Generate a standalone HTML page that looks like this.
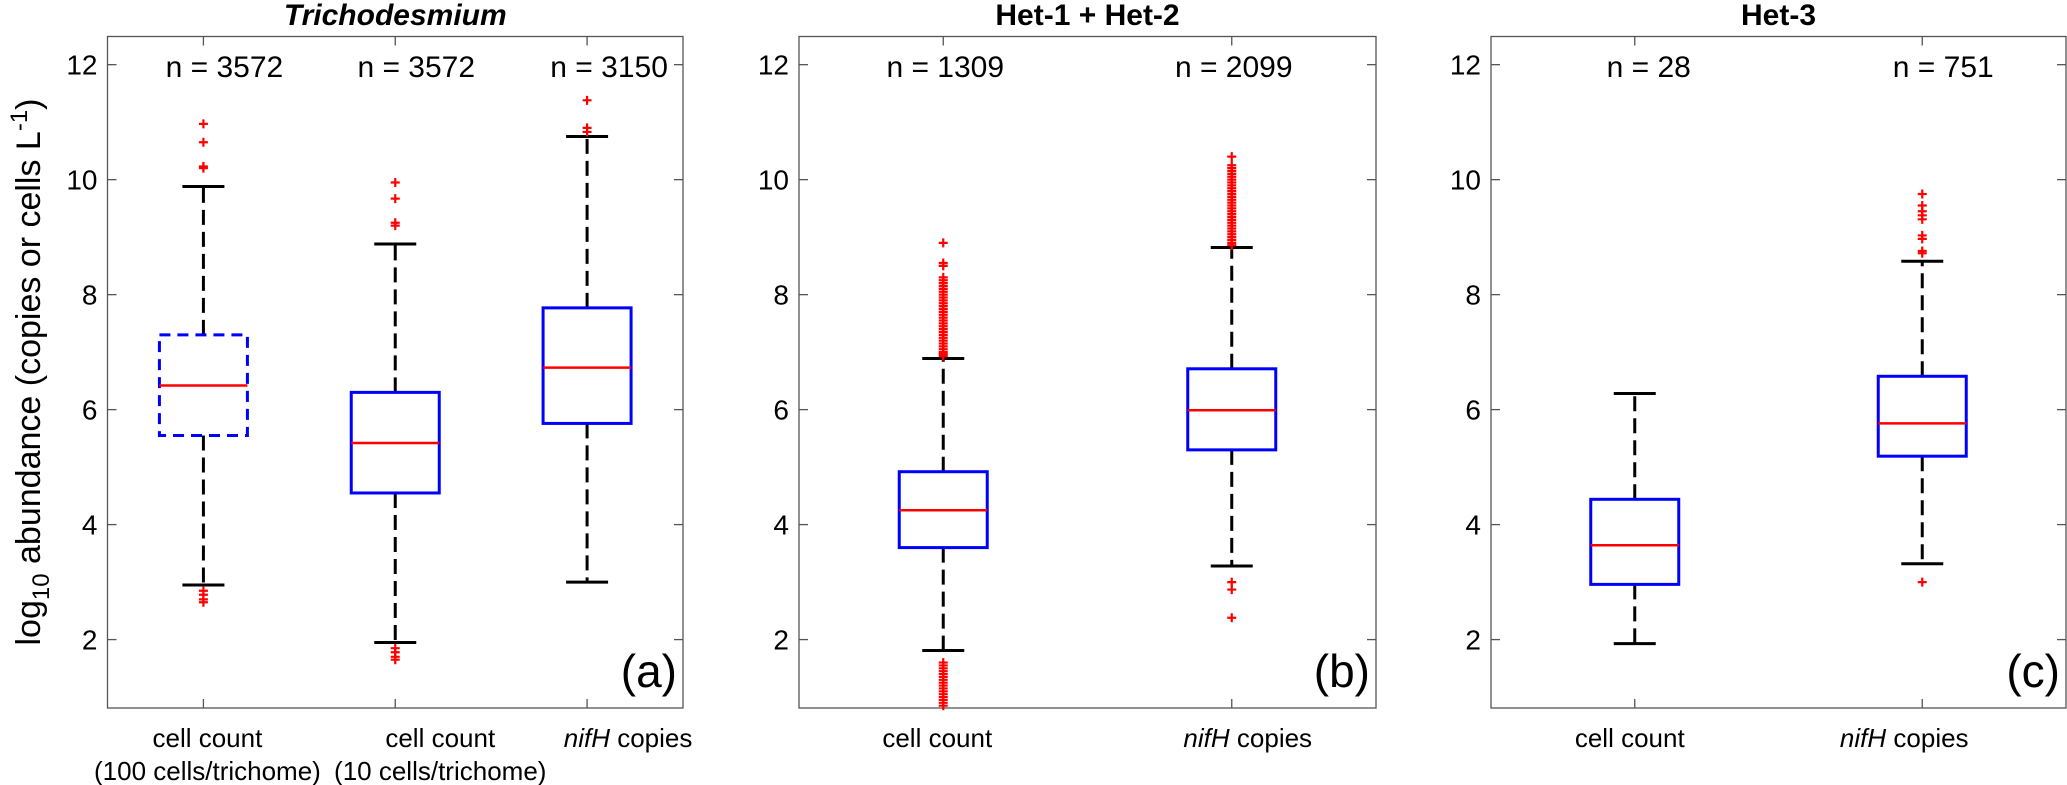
<!DOCTYPE html>
<html><head><meta charset="utf-8"><style>
html,body{margin:0;padding:0;background:#fff;}
svg{display:block;}
text{font-family:"Liberation Sans",Arial,sans-serif;fill:#000;}
</style></head><body>
<svg id="chart" width="2067" height="785" xmlns="http://www.w3.org/2000/svg"></svg>
<script>
// ---- data ----
const panelTitles = ["Trichodesmium", "Het-1 + Het-2", "Het-3"];
const panelTags = ["(a)", "(b)", "(c)"];
const yTicks = [2, 4, 6, 8, 10, 12];
const catsA = [["cell count", "(100 cells/trichome)"], ["cell count", "(10 cells/trichome)"], ["nifH copies"]];
const catsB = [["cell count"], ["nifH copies"]];
const catsC = [["cell count"], ["nifH copies"]];
const nA = ["n = 3572", "n = 3572", "n = 3150"];
const nB = ["n = 1309", "n = 2099"];
const nC = ["n = 28", "n = 751"];
// [whiskerLow, q1, median, q3, whiskerHigh]
const statsA = [[2.95, 5.55, 6.42, 7.3, 9.88], [1.95, 4.55, 5.42, 6.3, 8.88], [3.0, 5.76, 6.73, 7.77, 10.75]];
const statsB = [[1.81, 3.60, 4.25, 4.92, 6.89], [3.28, 5.30, 5.99, 6.71, 8.82]];
const statsC = [[1.93, 2.96, 3.64, 4.44, 6.28], [3.32, 5.19, 5.76, 6.58, 8.58]];
const outA = [[2.65, 2.7, 2.78, 2.85, 10.2, 10.23, 10.65, 10.97], [1.65, 1.7, 1.78, 1.85, 9.2, 9.25, 9.67, 9.95], [10.83, 10.9, 11.38]];
const outB = [[0.85, 0.9, 0.95, 1.0, 1.05, 1.1, 1.15, 1.2, 1.25, 1.3, 1.35, 1.4, 1.45, 1.5, 1.55, 1.6,
               6.93, 6.97, 7.0, 7.05, 7.1, 7.15, 7.2, 7.25, 7.3, 7.35, 7.4, 7.45, 7.5, 7.55, 7.6, 7.65, 7.7, 7.75, 7.8, 7.85, 7.9, 7.95, 8.0, 8.05, 8.1, 8.15, 8.2, 8.25, 8.3, 8.5, 8.55, 8.9],
              [2.38, 2.87, 3.0, 8.86, 8.9, 8.95, 9.0, 9.05, 9.1, 9.15, 9.2, 9.25, 9.3, 9.35, 9.4, 9.45, 9.5, 9.55, 9.6, 9.65, 9.7, 9.75, 9.8, 9.85, 9.9, 9.95, 10.0, 10.05, 10.1, 10.15, 10.2, 10.25, 10.4]];
const outC = [[], [3.0, 8.72, 8.76, 8.97, 9.03, 9.31, 9.38, 9.45, 9.55, 9.75]];

const svg = document.getElementById('chart');
const NS = 'http://www.w3.org/2000/svg';
function mk(tag, attrs, parent) {
  const e = document.createElementNS(NS, tag);
  for (const k in attrs) e.setAttribute(k, attrs[k]);
  (parent || svg).appendChild(e);
  return e;
}
const Y0 = 708, Y1 = 36.5, VMIN = 0.81, VMAX = 12.49;
function yS(v) { return Y0 - (v - VMIN) / (VMAX - VMIN) * (Y0 - Y1); }

const panels = [
  {L: 107.5, R: 683, cats: catsA, ns: nA, stats: statsA, outs: outA, dashedFirst: true, nOff: [21, 21, 22], lOff: [4, 45, 41]},
  {L: 799, R: 1376, cats: catsB, ns: nB, stats: statsB, outs: outB, dashedFirst: false, nOff: [2, 2], lOff: [-6, 16]},
  {L: 1491, R: 2066, cats: catsC, ns: nC, stats: statsC, outs: outC, dashedFirst: false, nOff: [14, 21], lOff: [-5, -18]}
];

panels.forEach((p, pi) => {
  const g = mk('g', {});
  
  
  const k = p.cats.length;
  const xS = i => p.L + (i + 0.5) / k * (p.R - p.L);
  const fr = mk('rect', {x: p.L, y: Y1, width: p.R - p.L, height: Y0 - Y1, fill: 'none', stroke: '#555', 'stroke-width': 1.3}, g);
  
  
  yTicks.forEach(t => {
    const y = yS(t);
    mk('line', {x1: p.L, x2: p.L + 9, y1: y, y2: y, stroke: '#555', 'stroke-width': 1.3}, g);
    mk('line', {x1: p.R, x2: p.R - 9, y1: y, y2: y, stroke: '#555', 'stroke-width': 1.3}, g);
    const tl = mk('text', {x: p.L - 10, y: y + 10, 'text-anchor': 'end', 'font-size': 28}, g);
    tl.textContent = t;
    
    
  });
  const tt = mk('text', {x: (p.L + p.R) / 2, y: 25, 'text-anchor': 'middle', 'font-size': 30, 'font-weight': 'bold', 'font-style': pi === 0 ? 'italic' : 'normal'}, g);
  tt.textContent = panelTitles[pi];
  
  
  const tg = mk('text', {x: p.R - 6, y: 687, 'text-anchor': 'end', 'font-size': 46}, g);
  tg.textContent = panelTags[pi];
  
  
  p.cats.forEach((c, i) => {
    const x = xS(i);
    const s = p.stats[i];
    mk('line', {x1: x, x2: x, y1: Y1, y2: Y1 + 9, stroke: '#555', 'stroke-width': 1.3}, g);
    mk('line', {x1: x, x2: x, y1: Y0, y2: Y0 - 9, stroke: '#555', 'stroke-width': 1.3}, g);
    const nl = mk('text', {x: x + p.nOff[i], y: 77, 'text-anchor': 'middle', 'font-size': 30}, g);
    nl.textContent = p.ns[i];
    
    
    c.forEach((line, li) => {
      const xl = mk('text', {x: x + p.lOff[i], y: 747 + li * 33, 'text-anchor': 'middle', 'font-size': 26}, g);
      
      
      if (line.startsWith('nifH')) {
        const t1 = mk('tspan', {'font-style': 'italic'}, xl); t1.textContent = 'nifH';
        const t2 = mk('tspan', {}, xl); t2.textContent = ' copies';
      } else xl.textContent = line;
    });
    const hw = 44, cw = 21;
    const w1 = mk('line', {x1: x, x2: x, y1: yS(s[3]), y2: yS(s[4]), stroke: '#000', 'stroke-width': 3, 'stroke-dasharray': '15,7'}, g);
    
    
    const w2 = mk('line', {x1: x, x2: x, y1: yS(s[1]), y2: yS(s[0]), stroke: '#000', 'stroke-width': 3, 'stroke-dasharray': '15,7'}, g);
    
    
    [s[0], s[4]].forEach(v => {
      const cap = mk('line', {x1: x - cw, x2: x + cw, y1: yS(v), y2: yS(v), stroke: '#000', 'stroke-width': 3}, g);
      
      
    });
    const bx = mk('rect', {x: x - hw, y: yS(s[3]), width: 2 * hw, height: yS(s[1]) - yS(s[3]), fill: '#fff', stroke: '#0000ff', 'stroke-width': 3}, g);
    if (p.dashedFirst && i === 0) bx.setAttribute('stroke-dasharray', '11,7');
    
    
    const md = mk('line', {x1: x - hw, x2: x + hw, y1: yS(s[2]), y2: yS(s[2]), stroke: '#ff0000', 'stroke-width': 2.5}, g);
    
    
    p.outs[i].forEach(v => {
      const y = yS(v);
      const o = mk('path', {d: `M${x - 4.5},${y}H${x + 4.5}M${x},${y - 4.5}V${y + 4.5}`, stroke: '#ff0000', 'stroke-width': 2.2, fill: 'none'}, g);
      
      
    });
  });
});
const yt = mk('text', {transform: 'translate(40,372) rotate(-90)', 'text-anchor': 'middle', 'font-size': 34});


const a1 = mk('tspan', {}, yt); a1.textContent = 'log';
const a2 = mk('tspan', {'font-size': 24, dy: 9}, yt); a2.textContent = '10';
const a3 = mk('tspan', {dy: -9}, yt); a3.textContent = ' abundance (copies or cells L';
const a4 = mk('tspan', {'font-size': 24, dy: -13}, yt); a4.textContent = '-1';
const a5 = mk('tspan', {dy: 13}, yt); a5.textContent = ')';
</script>
</body></html>
